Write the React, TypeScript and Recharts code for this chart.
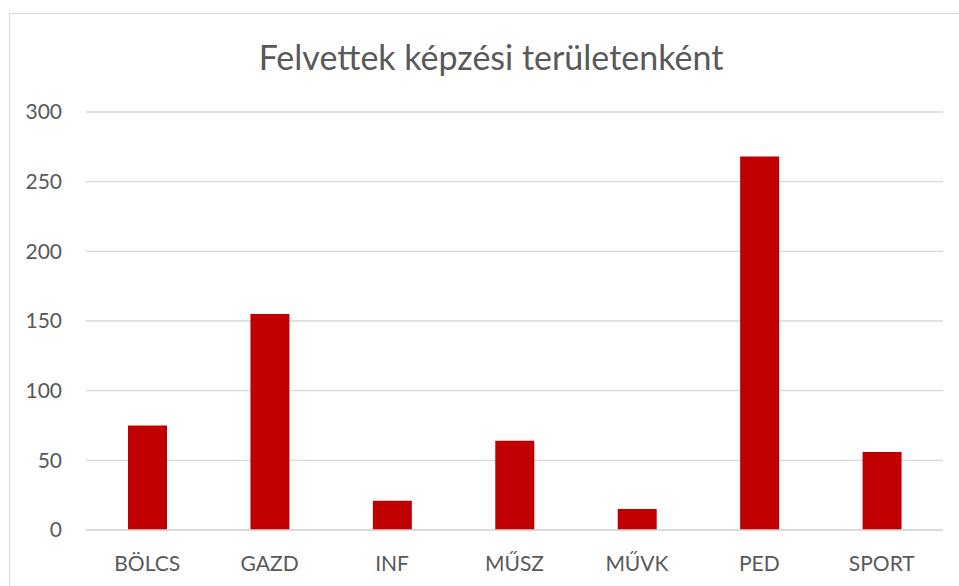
import { BarChart, Bar, XAxis, YAxis, CartesianGrid } from "recharts";

const categories = ["BÖLCS", "GAZD", "INF", "MŰSZ", "MŰVK", "PED", "SPORT"];
const admitted = [75, 155, 21, 64, 15, 268, 56];
const yTicks = [0, 50, 100, 150, 200, 250, 300];

const data = categories.map((area, i) => ({ area, count: admitted[i] }));

const FONT = "Lato, 'Open Sans', sans-serif";
const TEXT = "#595959";

const App = () => {
  return (
    <div
      style={{
        position: "fixed",
        left: 0,
        top: 0,
        width: 959,
        height: 586,
        overflow: "hidden",
        background: "#fff",
        fontFamily: FONT,
      }}
    >
      <div
        style={{
          position: "absolute",
          left: 9,
          top: 13,
          width: 962,
          height: 600,
          border: "1px solid #d9d9d9",
        }}
      >
        <div
          style={{
            position: "absolute",
            left: 0,
            top: 23,
            width: 962,
            textAlign: "center",
            fontSize: 34,
            color: TEXT,
            lineHeight: "40px",
          }}
        >
          Felvettek képzési területenként
        </div>
        <BarChart
          width={962}
          height={570}
          data={data}
          margin={{ top: 98, right: 29, bottom: 14, left: 0 }}
          barSize={39}
        >
          <CartesianGrid vertical={false} stroke="#d9d9d9" strokeWidth={1.3} />
          <XAxis
            dataKey="area"
            height={40}
            interval={0}
            tickLine={false}
            axisLine={{ stroke: "#d9d9d9", strokeWidth: 1.3 }}
            tickMargin={20}
            tick={{ fill: TEXT, fontSize: 21, fontFamily: FONT }}
          />
          <YAxis
            width={76}
            domain={[0, 300]}
            ticks={yTicks}
            tickLine={false}
            axisLine={false}
            tickMargin={18}
            tick={{ fill: TEXT, fontSize: 21, fontFamily: FONT }}
          />
          <Bar dataKey="count" fill="#c00000" isAnimationActive={false} />
        </BarChart>
      </div>
    </div>
  );
};

export default App;
